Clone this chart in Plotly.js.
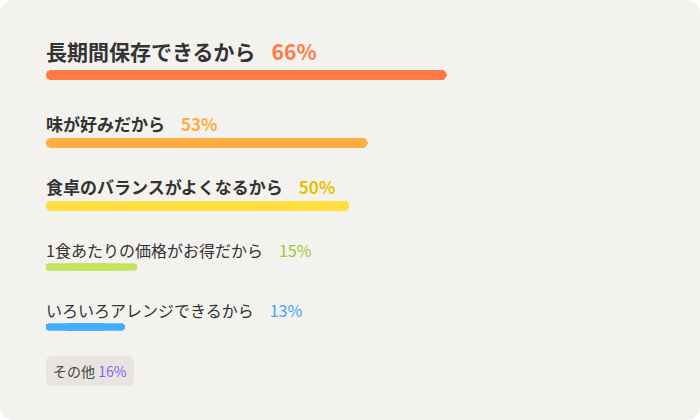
<!DOCTYPE html>
<html>
<head>
<meta charset="utf-8">
<script src="https://cdn.plot.ly/plotly-3.0.1.min.js"></script>
<style>
  html, body { margin: 0; padding: 0; background: #ffffff; }
  #chart { width: 700px; height: 420px; border-radius: 14px; overflow: hidden; background: #f3f2ef; }
</style>
</head>
<body>
<div id="chart"></div>
<script>
// ---- data ----
const categories = ['長期間保存できるから', '味が好みだから', '食卓のバランスがよくなるから', '1食あたりの価格がお得だから', 'いろいろアレンジできるから'];
const values = [66, 53, 50, 15, 13];
const otherLabel = 'その他';
const otherValue = 16;

// ---- styles ----
const barColors = ['#ff7a45', '#ffae42', '#ffdf40', '#c3e45c', '#45adff'];
const pctColors = ['#ff7a45', '#fcab3f', '#e8c100', '#9cc83a', '#3aa8f5'];
const otherColor = '#8b5cf6';
const FONT = '"Noto Sans CJK JP", "Noto Sans", sans-serif';

// ---- layout geometry (px) ----
const W = 700, H = 420, L = 46, R = 47;
const PW = W - L - R;
const rowCenter = [75, 143, 206, 267, 327];
const rowThick = [10, 10, 10, 7.5, 7.5];
const labelCenter = [51, 123, 186.5, 249.5, 309.5];
const labelSize = [21, 17, 17, 16, 16];
const labelBold = [true, true, true, false, false];
const pctBold = [true, true, true, false, false];

const px2x = p => (p - L) / PW;
const px2y = p => 1 - p / H;

const traces = [];
const layout = {
  width: W, height: H,
  margin: {l: L, r: R, t: 0, b: 0, pad: 0},
  paper_bgcolor: 'rgba(0,0,0,0)',
  plot_bgcolor: 'rgba(0,0,0,0)',
  showlegend: false,
  bargap: 0,
  barmode: 'overlay',
  xaxis: {range: [0, 100], visible: false, fixedrange: true, domain: [0, 1]},
  annotations: [],
  shapes: []
};

categories.forEach((cat, i) => {
  const ax = i === 0 ? 'y' : 'y' + (i + 1);
  const axKey = i === 0 ? 'yaxis' : 'yaxis' + (i + 1);
  const v = values[i];
  // two overlapping pieces so that both outer ends get rounded:
  // one grows left from 3/4 of the value to 0, one grows right from 1/4 to the value
  [[v * 0.75, -v * 0.75], [v * 0.25, v * 0.75]].forEach(([b, len]) => {
    traces.push({
      type: 'bar', orientation: 'h',
      x: [len], y: [cat], base: [b],
      xaxis: 'x', yaxis: ax,
      width: [1],
      marker: {color: barColors[i], cornerradius: '50%', line: {width: 0}},
      hoverinfo: 'skip'
    });
  });
  layout[axKey] = {
    type: 'category', range: [-0.5, 0.5], visible: false, fixedrange: true,
    anchor: 'x',
    domain: [px2y(rowCenter[i] + rowThick[i] / 2), px2y(rowCenter[i] - rowThick[i] / 2)]
  };
  const lab = labelBold[i] ? '<b>' + cat + '</b>' : cat;
  const pct = pctBold[i] ? '<b>' + values[i] + '%</b>' : values[i] + '%';
  layout.annotations.push({
    xref: 'paper', yref: 'paper', x: px2x(44), y: px2y(labelCenter[i]),
    xanchor: 'left', yanchor: 'middle', showarrow: false,
    text: lab + '<span style="font-size:16px">\u3000</span><span style="color:' + pctColors[i] + '">' + pct + '</span>',
    font: {family: FONT, size: labelSize[i], color: '#333333'}
  });
});

// rounded box for "other"
function roundRect(x0, y0, x1, y1, r) {
  const X = px2x, Y = px2y;
  return 'M' + X(x0 + r) + ',' + Y(y0) +
    ' L' + X(x1 - r) + ',' + Y(y0) +
    ' Q' + X(x1) + ',' + Y(y0) + ' ' + X(x1) + ',' + Y(y0 + r) +
    ' L' + X(x1) + ',' + Y(y1 - r) +
    ' Q' + X(x1) + ',' + Y(y1) + ' ' + X(x1 - r) + ',' + Y(y1) +
    ' L' + X(x0 + r) + ',' + Y(y1) +
    ' Q' + X(x0) + ',' + Y(y1) + ' ' + X(x0) + ',' + Y(y1 - r) +
    ' L' + X(x0) + ',' + Y(y0 + r) +
    ' Q' + X(x0) + ',' + Y(y0) + ' ' + X(x0 + r) + ',' + Y(y0) + ' Z';
}
layout.shapes.push({
  type: 'path', xref: 'paper', yref: 'paper',
  path: roundRect(46, 356, 134, 386, 6),
  fillcolor: '#e8e5e1', line: {width: 0}, layer: 'below'
});
layout.annotations.push({
  xref: 'paper', yref: 'paper', x: px2x(51), y: px2y(371),
  xanchor: 'left', yanchor: 'middle', showarrow: false,
  text: otherLabel + ' <span style="color:' + otherColor + '">' + otherValue + '%</span>',
  font: {family: FONT, size: 14, color: '#444444'}
});

Plotly.newPlot('chart', traces, layout, {staticPlot: true, displayModeBar: false});
</script>
</body>
</html>
